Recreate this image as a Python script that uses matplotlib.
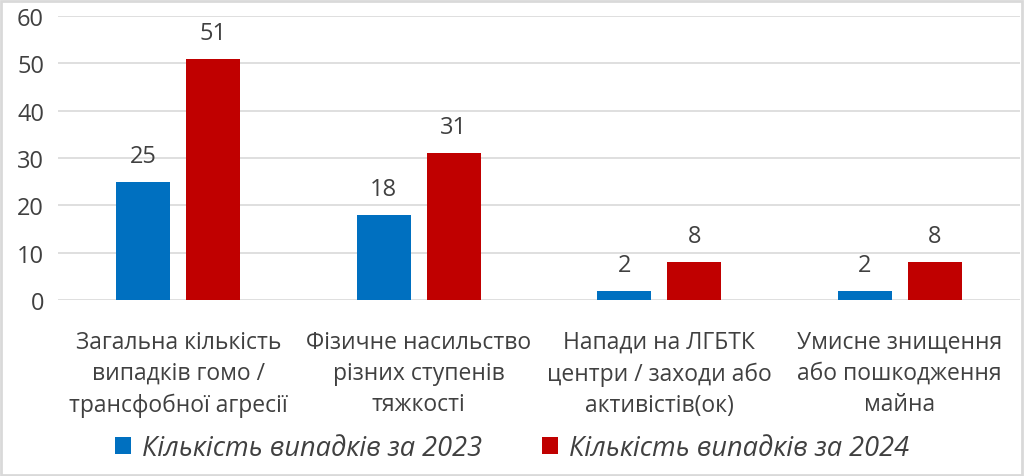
import numpy as np
import matplotlib.pyplot as plt
from matplotlib.patches import Rectangle

categories = [
    "Загальна кількість\nвипадків гомо /\nтрансфобної агресії",
    "Фізичне насильство\nрізних ступенів\nтяжкості",
    "Напади на ЛГБТК\nцентри / заходи або\nактивістів(ок)",
    "Умисне знищення\nабо пошкодження\nмайна",
]
cases_2023 = [25, 18, 2, 2]
cases_2024 = [51, 31, 8, 8]
series_names = ["Кількість випадків за 2023", "Кількість випадків за 2024"]
yticks = [0, 10, 20, 30, 40, 50, 60]

blue = "#0070C0"
red = "#C00000"
txt = "#404040"

plt.rcParams['font.family'] = ['Open Sans', 'DejaVu Sans']

fig = plt.figure(figsize=(10.24, 4.77), dpi=100)
ax = fig.add_axes([58 / 1024, 176 / 477, 962 / 1024, 284 / 477])

x = np.arange(len(categories))
w = 0.225
off = 0.146
b1 = ax.bar(x - off, cases_2023, w, color=blue, label=series_names[0], zorder=3)
b2 = ax.bar(x + off, cases_2024, w, color=red, label=series_names[1], zorder=3)

for bars in (b1, b2):
    for rect in bars:
        h = rect.get_height()
        ax.annotate(f"{h:g}", (rect.get_x() + rect.get_width() / 2, h),
                    xytext=(0, 10), textcoords="offset points",
                    ha="center", va="bottom", fontsize=17, color=txt)

ax.set_xlim(-0.5, len(categories) - 0.5)
ax.set_ylim(0, 60)
ax.set_yticks(yticks)
ax.yaxis.grid(True, color="#D9D9D9", linewidth=1.2, zorder=0)
ax.set_axisbelow(True)
for s in ax.spines.values():
    s.set_visible(False)
ax.tick_params(axis="both", length=0, labelsize=17, colors=txt)
ax.tick_params(axis="y", pad=10)
ax.tick_params(axis="x", pad=21.5)
ax.set_xticks(x)
ax.set_xticklabels(categories, fontsize=16.5, color=txt, linespacing=1.4)

leg = fig.legend(handles=[b1, b2], loc="center", bbox_to_anchor=(0.5, 28 / 477),
                 ncol=2, frameon=False, handlelength=0.6,
                 handleheight=0.6, handletextpad=0.4, columnspacing=2.2,
                 prop={'style': 'italic', 'size': 19.5})
for t in leg.get_texts():
    t.set_color(txt)

fig.patches.append(Rectangle((1 / 1024, 1 / 477), 1021 / 1024, 474 / 477,
                             transform=fig.transFigure, fill=False,
                             edgecolor="#D9D9D9", linewidth=2))

fig.savefig("out.png", dpi=100)
